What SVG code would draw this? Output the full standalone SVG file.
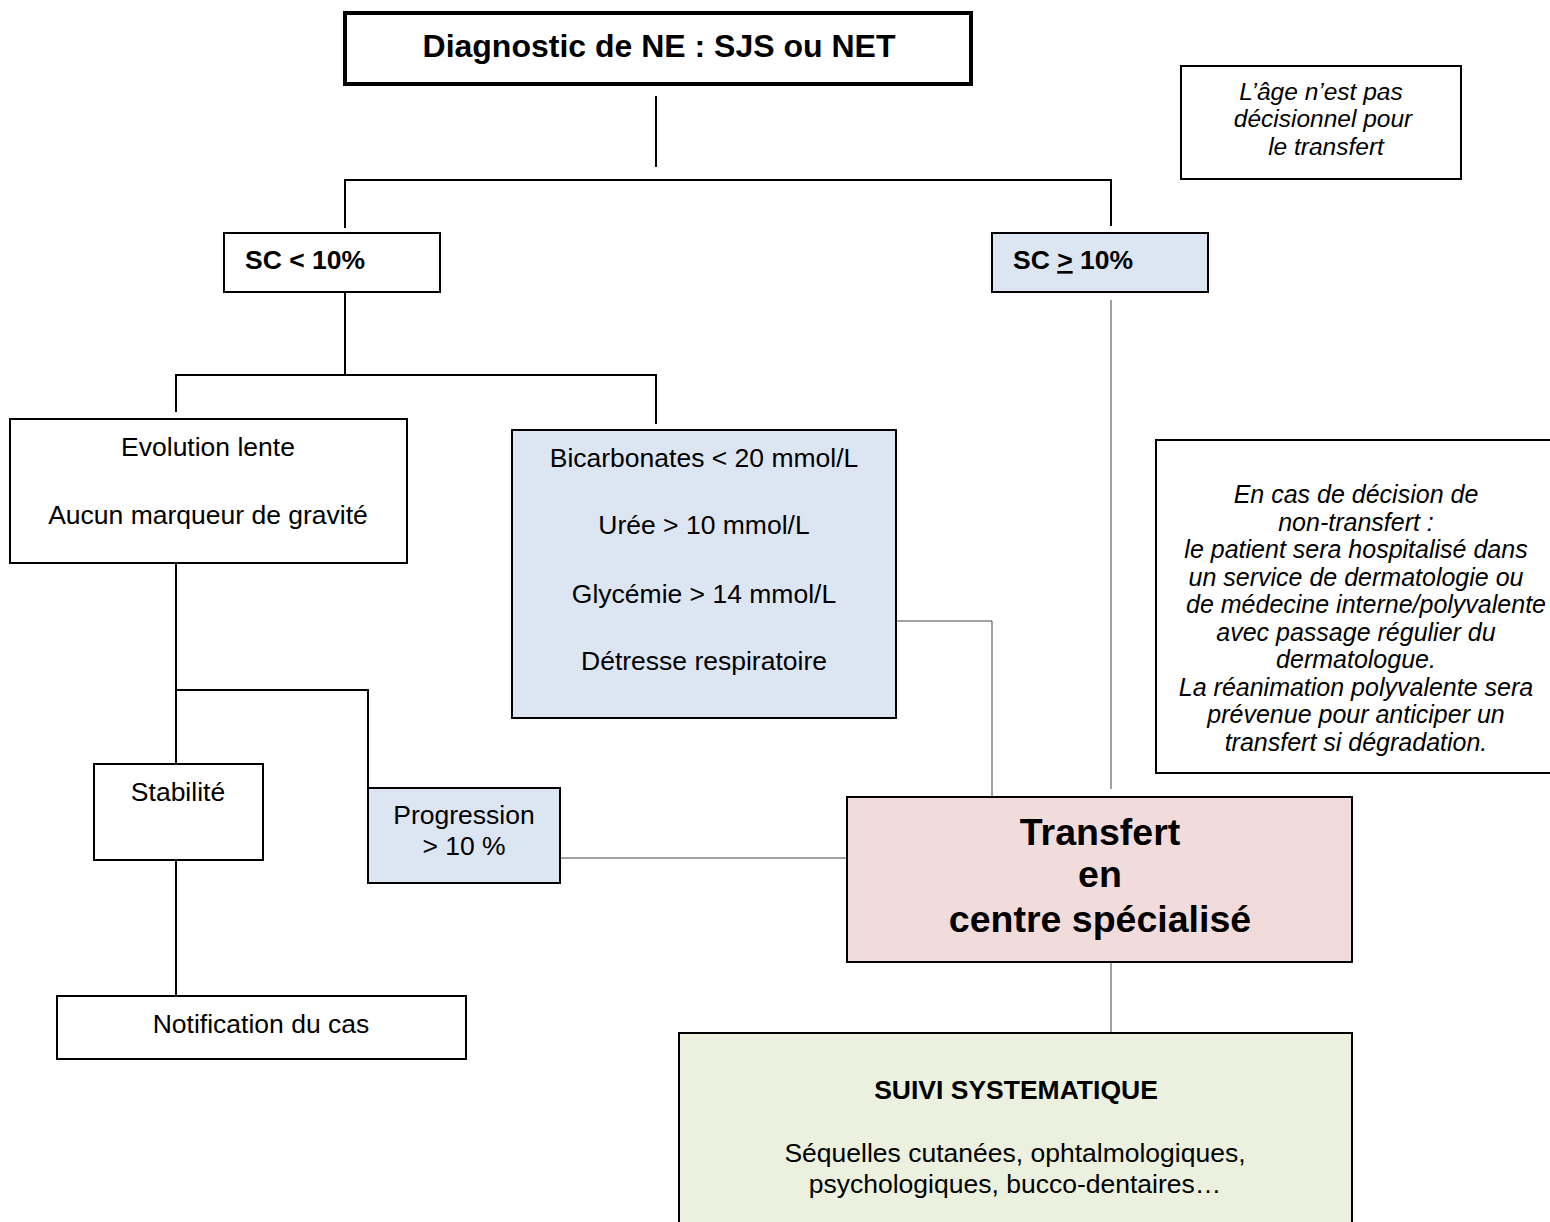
<svg xmlns="http://www.w3.org/2000/svg" width="1550" height="1222" viewBox="0 0 1550 1222">
<style>
text{font-family:"Liberation Sans",Arial,sans-serif;fill:#000}
.t{font-size:26.5px}
.c{text-anchor:middle}
.b{font-weight:bold}
.i{font-style:italic;font-size:25px}
.ia{font-style:italic;font-size:24.5px}
.box{stroke:#000;stroke-width:2;fill:#fff}
.blue{fill:#dce6f2}
.pink{fill:#f2dcdb}
.green{fill:#ebf1de}
.ln{stroke:#000;stroke-width:2;fill:none}
.thin{stroke:#444;stroke-width:1;fill:none}
</style>
<rect width="1550" height="1222" fill="#fff"/>
<g id="connectors">
<line class="ln" x1="656" y1="96" x2="656" y2="167"/>
<polyline class="ln" points="345,228 345,180 1111,180 1111,226"/>
<line class="ln" x1="345" y1="292" x2="345" y2="375"/>
<polyline class="ln" points="176,412 176,375 656,375 656,424"/>
<line class="thin" x1="1111" y1="300" x2="1111" y2="789"/>
<polyline class="thin" points="896,621 992,621 992,797"/>
<line class="ln" x1="176" y1="563" x2="176" y2="764"/>
<polyline class="ln" points="176,690 368,690 368,788"/>
<line class="thin" x1="560" y1="858" x2="847" y2="858"/>
<line class="ln" x1="176" y1="860" x2="176" y2="996"/>
<line class="thin" x1="1111" y1="962" x2="1111" y2="1033"/>
</g>
<g id="diagnostic">
<rect x="345" y="13" width="626" height="71" fill="#fff" stroke="#000" stroke-width="4"/>
<text class="c b" x="659" y="57" font-size="32">Diagnostic de NE : SJS ou NET</text>
</g>
<g id="age">
<rect class="box" x="1181" y="66" width="280" height="113"/>
<text class="c ia" x="1321" y="100">L’âge n’est pas</text>
<text class="c ia" x="1323" y="127">décisionnel pour</text>
<text class="c ia" x="1326" y="155">le transfert</text>
</g>
<g id="sc-low">
<rect class="box" x="224" y="233" width="216" height="59"/>
<text class="t b" x="245" y="269">SC &lt; 10%</text>
</g>
<g id="sc-high">
<rect class="box blue" x="992" y="233" width="216" height="59"/>
<text class="t b" x="1013" y="269">SC <tspan text-decoration="underline">&gt;</tspan> 10%</text>
</g>
<g id="evolution">
<rect class="box" x="10" y="419" width="397" height="144"/>
<text class="t c" x="208" y="456">Evolution lente</text>
<text class="t c" x="208" y="524">Aucun marqueur de gravité</text>
</g>
<g id="criteres">
<rect class="box blue" x="512" y="430" width="384" height="288"/>
<text class="t c" x="704" y="467">Bicarbonates &lt; 20 mmol/L</text>
<text class="t c" x="704" y="534">Urée &gt; 10 mmol/L</text>
<text class="t c" x="704" y="603">Glycémie &gt; 14 mmol/L</text>
<text class="t c" x="704" y="670">Détresse respiratoire</text>
</g>
<g id="non-transfert">
<rect class="box" x="1156" y="440" width="400" height="333"/>
<text class="c i" x="1356" y="503">En cas de décision de</text>
<text class="c i" x="1356" y="531">non-transfert :</text>
<text class="c i" x="1356" y="558">le patient sera hospitalisé dans</text>
<text class="c i" x="1356" y="586">un service de dermatologie ou</text>
<text class="c i" x="1366" y="613">de médecine interne/polyvalente</text>
<text class="c i" x="1356" y="641">avec passage régulier du</text>
<text class="c i" x="1356" y="668">dermatologue.</text>
<text class="c i" x="1356" y="696">La réanimation polyvalente sera</text>
<text class="c i" x="1356" y="723">prévenue pour anticiper un</text>
<text class="c i" x="1356" y="751">transfert si dégradation.</text>
</g>
<g id="stabilite">
<rect class="box" x="94" y="764" width="169" height="96"/>
<text class="t c" x="178" y="801">Stabilité</text>
</g>
<g id="progression">
<rect class="box blue" x="368" y="788" width="192" height="95"/>
<text class="t c" x="464" y="824">Progression</text>
<text class="t c" x="464" y="855">&gt; 10 %</text>
</g>
<g id="transfert">
<rect class="box pink" x="847" y="797" width="505" height="165"/>
<text class="c b" x="1100" y="845" font-size="37.5">Transfert</text>
<text class="c b" x="1100" y="887" font-size="37.5">en</text>
<text class="c b" x="1100" y="932" font-size="37.5">centre spécialisé</text>
</g>
<g id="notification">
<rect class="box" x="57" y="996" width="409" height="63"/>
<text class="t c" x="261" y="1033">Notification du cas</text>
</g>
<g id="suivi">
<rect class="box green" x="679" y="1033" width="673" height="200"/>
<text class="c b" x="1016" y="1099" font-size="26.5">SUIVI SYSTEMATIQUE</text>
<text class="t c" x="1015" y="1162">Séquelles cutanées, ophtalmologiques,</text>
<text class="t c" x="1015" y="1193">psychologiques, bucco-dentaires…</text>
</g>
</svg>
